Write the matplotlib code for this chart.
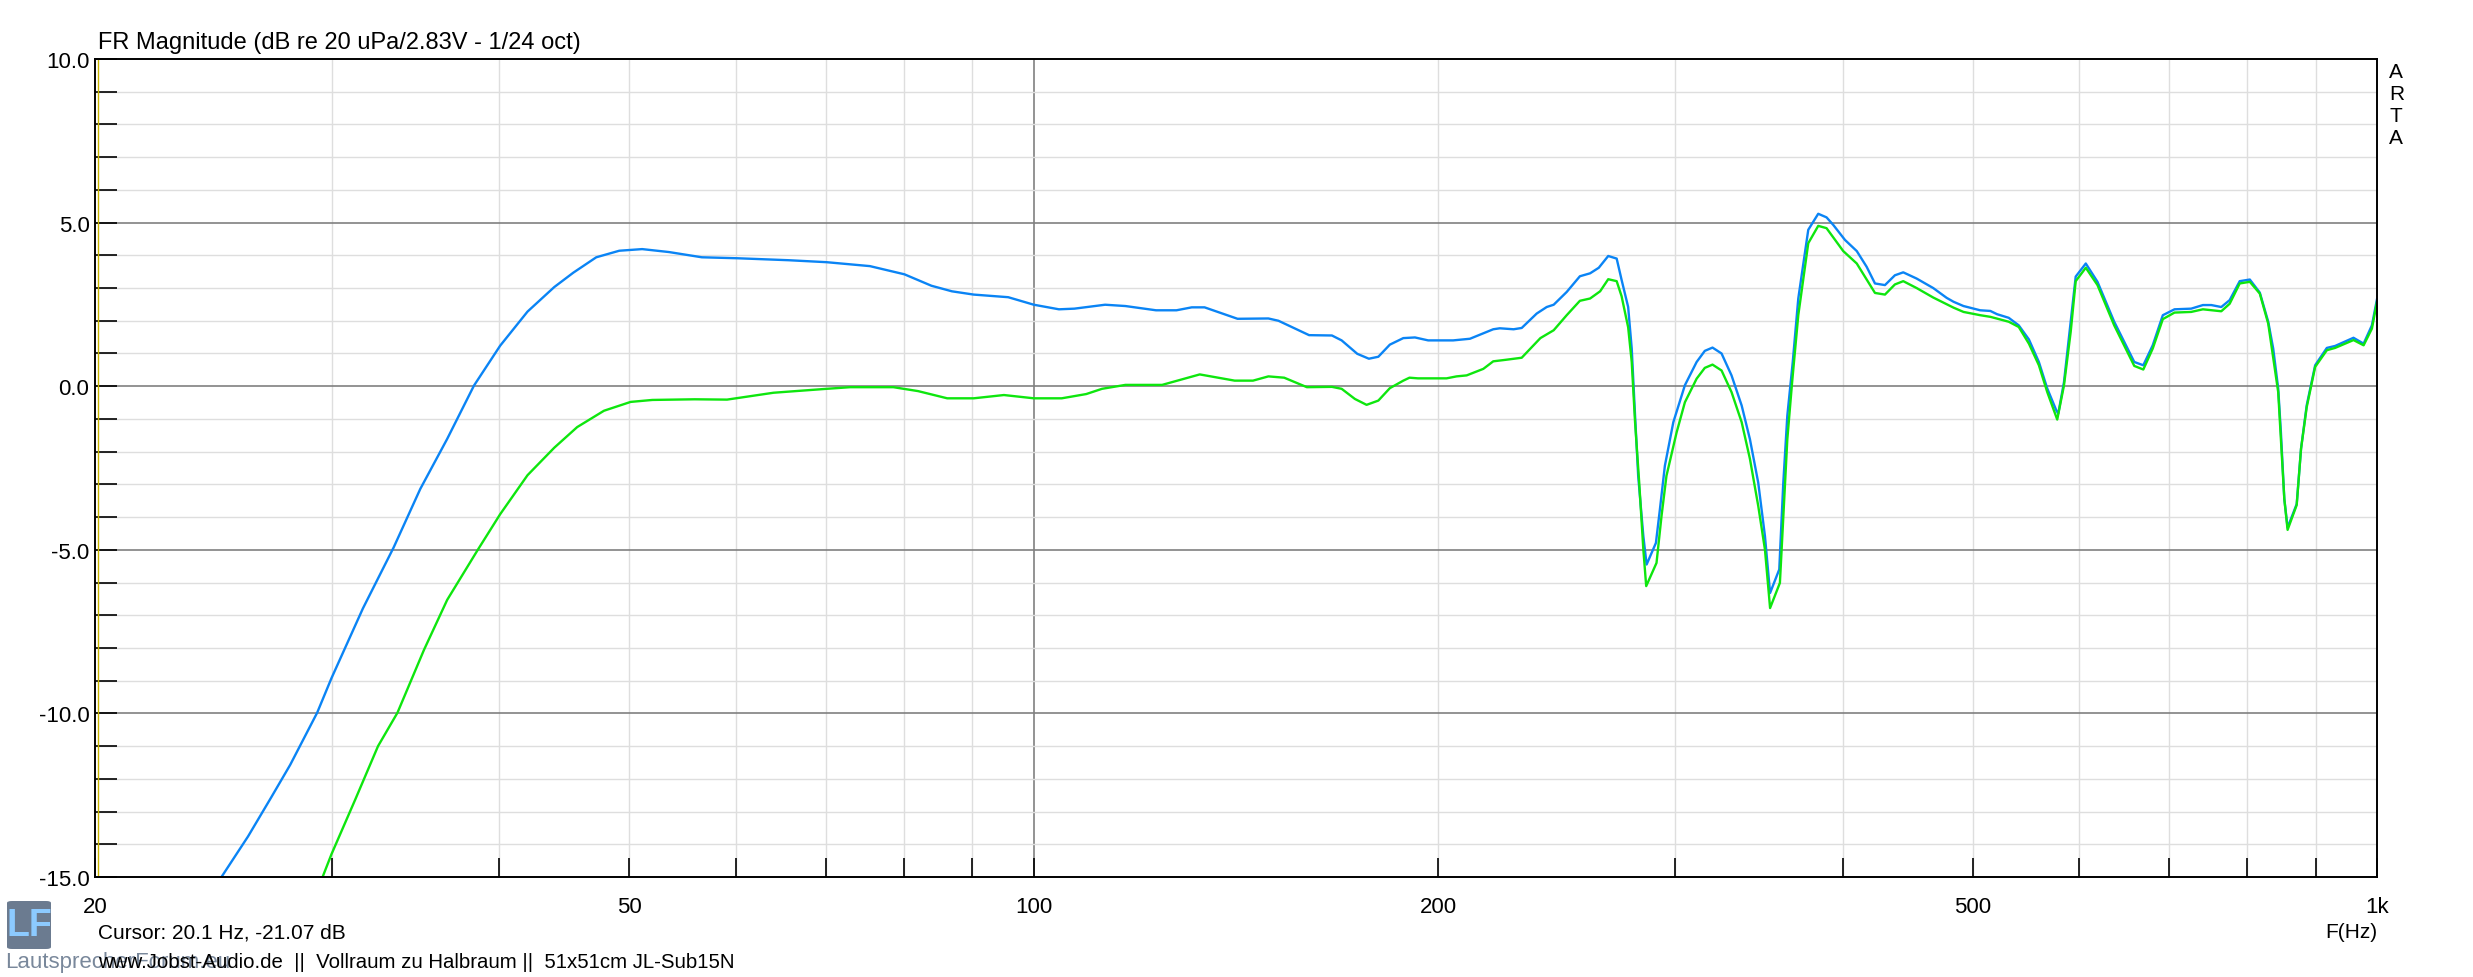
import matplotlib
matplotlib.use("Agg")
import matplotlib.pyplot as plt
from matplotlib.patches import FancyBboxPatch

plt.rcParams['font.family'] = ['Liberation Sans', 'DejaVu Sans']

# blue curve (Vollraum), frequency in Hz / level in dB
blue_f = [24.3, 26.0, 27.05, 27.95, 29.27, 30.0, 31.66, 33.37, 34.93, 36.58,
          38.3, 40.06, 41.98, 43.95, 45.41, 47.23, 49.13, 51.1, 53.5, 56.6,
          60.2, 65.7, 70.1, 75.5, 80.1, 83.9, 86.9, 90.2, 95.7, 100.0,
          104.4, 107.2, 113.0, 117.0, 123.3, 127.7, 131.1, 134.0, 141.8, 149.5,
          152.1, 160.3, 166.7, 169.5, 174.1, 177.6, 180.5, 184.1, 188.4, 192.2,
          196.6, 205.2, 211.2, 219.8, 222.3, 227.6, 230.8, 236.8, 240.9, 243.8,
          249.3, 255.0, 259.5, 263.4, 267.7, 271.6, 273.9, 277.0, 278.7, 280.3,
          281.8, 284.3, 285.9, 290.5, 292.5, 295.0, 299.3, 305.3, 311.5, 315.9,
          320.1, 325.1, 330.7, 336.5, 341.3, 346.2, 350.2, 353.3, 358.9, 361.4,
          363.9, 367.3, 370.8, 377.2, 383.7, 389.2, 393.7, 401.7, 409.9, 416.9,
          422.9, 430.2, 437.6, 443.9, 454.2, 467.3, 478.2, 483.9, 492.2, 506.5,
          515.4, 521.4, 531.9, 541.1, 550.6, 560.1, 568.2, 577.1, 579.0, 584.7,
          591.5, 596.6, 607.0, 619.3, 637.3, 659.6, 669.9, 680.8, 692.7, 706.7,
          727.2, 742.0, 752.7, 765.7, 776.8, 790.3, 804.1, 818.0, 829.9, 837.0,
          844.2, 848.1, 853.1, 857.9, 871.4, 877.9, 886.5, 899.4, 917.6, 930.7,
          960.5, 977.3, 991.3, 1000.0]
blue_db = [-15.6, -13.76, -12.57, -11.57, -9.98, -8.92, -6.79, -4.93, -3.14, -1.61,
           0.02, 1.24, 2.28, 3.03, 3.47, 3.94, 4.14, 4.19, 4.10, 3.94,
           3.91, 3.85, 3.79, 3.67, 3.42, 3.07, 2.90, 2.80, 2.72, 2.49,
           2.35, 2.37, 2.49, 2.45, 2.32, 2.32, 2.41, 2.41, 2.06, 2.07,
           2.00, 1.56, 1.55, 1.40, 0.99, 0.84, 0.90, 1.27, 1.47, 1.49,
           1.40, 1.40, 1.45, 1.74, 1.77, 1.74, 1.78, 2.22, 2.42, 2.49,
           2.88, 3.36, 3.45, 3.62, 3.98, 3.90, 3.25, 2.42, 1.15, -0.90,
           -2.74, -4.58, -5.45, -4.79, -3.76, -2.43, -1.10, 0.03, 0.74, 1.08,
           1.18, 1.00, 0.33, -0.59, -1.62, -2.95, -4.58, -6.32, -5.60, -2.95,
           -0.90, 0.74, 2.68, 4.78, 5.27, 5.16, 4.93, 4.47, 4.13, 3.65,
           3.14, 3.09, 3.39, 3.48, 3.29, 3.00, 2.70, 2.58, 2.45, 2.32,
           2.30, 2.20, 2.09, 1.86, 1.43, 0.74, -0.07, -0.74, -0.84, 0.12,
           1.97, 3.35, 3.75, 3.19, 1.97, 0.74, 0.64, 1.25, 2.17, 2.35,
           2.37, 2.48, 2.48, 2.42, 2.63, 3.21, 3.26, 2.86, 1.97, 1.15,
           -0.07, -1.40, -3.45, -4.32, -3.60, -1.91, -0.58, 0.64, 1.17, 1.23,
           1.48, 1.30, 1.86, 2.66]

# green curve (Halbraum)
green_f = [29.0, 30.0, 31.24, 32.49, 33.59, 35.16, 36.58, 38.55, 40.06, 41.98,
           43.95, 45.71, 47.86, 50.1, 52.0, 55.9, 59.1, 64.0, 70.1, 73.0,
           78.6, 82.0, 86.2, 90.2, 95.0, 100.0, 104.9, 109.4, 112.4, 117.0,
           124.6, 132.9, 141.1, 145.6, 149.5, 153.6, 159.7, 166.7, 169.5, 173.4,
           176.9, 180.5, 184.1, 188.4, 190.4, 193.2, 202.9, 206.4, 210.0, 216.1,
           219.8, 224.9, 230.8, 238.3, 243.8, 249.3, 255.0, 259.5, 264.0, 267.7,
           271.6, 273.9, 277.0, 278.7, 280.3, 282.3, 284.3, 285.7, 290.8, 293.3,
           295.8, 301.0, 305.3, 311.5, 315.9, 320.1, 325.1, 330.7, 336.5, 341.3,
           346.2, 350.2, 353.3, 359.3, 361.4, 363.9, 366.9, 370.8, 377.2, 383.7,
           389.2, 400.5, 409.9, 422.9, 430.2, 437.6, 443.9, 454.2, 467.3, 483.9,
           492.2, 506.5, 515.4, 531.9, 541.1, 550.6, 560.1, 568.2, 578.0, 584.7,
           591.5, 596.6, 607.0, 619.3, 637.3, 659.6, 669.9, 680.8, 692.7, 706.7,
           727.2, 742.0, 765.7, 776.8, 790.3, 804.1, 818.0, 829.9, 844.2, 848.1,
           853.1, 857.9, 871.4, 877.9, 886.5, 899.4, 917.6, 930.7, 960.5, 977.3,
           991.3, 1000.0]
green_db = [-15.85, -14.30, -12.64, -11.0, -9.98, -8.05, -6.53, -5.0, -3.91, -2.72,
            -1.88, -1.25, -0.75, -0.48, -0.42, -0.40, -0.41, -0.20, -0.08, -0.03,
            -0.03, -0.15, -0.37, -0.37, -0.27, -0.37, -0.37, -0.24, -0.08, 0.04,
            0.04, 0.36, 0.17, 0.17, 0.30, 0.26, -0.03, -0.02, -0.08, -0.39,
            -0.57, -0.44, -0.06, 0.17, 0.26, 0.24, 0.24, 0.30, 0.33, 0.53,
            0.76, 0.81, 0.87, 1.47, 1.71, 2.17, 2.61, 2.68, 2.90, 3.27,
            3.21, 2.75, 1.80, 0.74, -1.10, -2.95, -4.99, -6.11, -5.40, -3.97,
            -2.74, -1.41, -0.49, 0.23, 0.56, 0.66, 0.48, -0.18, -1.10, -2.22,
            -3.66, -4.99, -6.78, -6.01, -3.97, -1.62, 0.12, 2.17, 4.37, 4.90,
            4.83, 4.13, 3.75, 2.85, 2.80, 3.11, 3.21, 3.00, 2.71, 2.40,
            2.27, 2.17, 2.12, 1.97, 1.81, 1.30, 0.64, -0.18, -1.02, 0.02,
            1.66, 3.21, 3.62, 3.09, 1.86, 0.62, 0.51, 1.15, 2.05, 2.25,
            2.27, 2.35, 2.29, 2.52, 3.14, 3.19, 2.83, 1.91, -0.18, -1.61,
            -3.45, -4.39, -3.63, -1.91, -0.64, 0.59, 1.10, 1.17, 1.41, 1.25,
            1.76, 2.58]

x_ticks = [20, 50, 100, 200, 500, 1000]
x_labels = ['20', '50', '100', '200', '500', '1k']
y_ticks = [-15, -10, -5, 0, 5, 10]
y_labels = ['-15.0', '-10.0', '-5.0', '0.0', '5.0', '10.0']
cursor_f = 20.1

W, H = 2473, 978
fig = plt.figure(figsize=(W / 100, H / 100), dpi=100)
ax = fig.add_axes([95 / W, (H - 878) / H, 2282 / W, 818 / H])

light = '#dedede'
dark = '#808080'
minor_f = [30, 40, 50, 60, 70, 80, 90, 200, 300, 400, 500, 600, 700, 800, 900]
for f in minor_f:
    ax.axvline(f, color=light, lw=1.0, zorder=1)
ax.axvline(100, color=dark, lw=1.2, zorder=1)
for v in range(-14, 10):
    if v % 5 == 0:
        ax.axhline(v, color=dark, lw=1.2, zorder=1)
    else:
        ax.axhline(v, color=light, lw=1.0, zorder=1)

ax.axvline(cursor_f, color='#c8b400', lw=1.0, zorder=2)

ax.plot(blue_f, blue_db, color='#0a84f5', lw=1.7, zorder=3)
ax.plot(green_f, green_db, color='#0ee60e', lw=1.7, zorder=4)

ax.set_xscale('log')
ax.set_xlim(20, 1000)
ax.set_ylim(-15, 10)

ax.set_xticks(x_ticks)
ax.set_xticklabels(x_labels)
ax.set_xticks(minor_f, minor=True)
ax.set_xticklabels([], minor=True)
ax.set_yticks(y_ticks)
ax.set_yticklabels(y_labels)
ax.set_yticks(range(-14, 10), minor=True)

ax.tick_params(axis='x', which='both', direction='in', length=13.5, width=1.2,
               pad=14, labelsize=16, colors='black')
ax.tick_params(axis='y', which='both', direction='in', length=16, width=1.2,
               pad=4, labelsize=16)
for s in ax.spines.values():
    s.set_linewidth(1.4)
    s.set_color('black')
    s.set_zorder(5)

def px(x, y):
    return x / W, 1 - y / H

fig.text(*px(98, 43), 'FR Magnitude (dB re 20 uPa/2.83V - 1/24 oct)',
         fontsize=17, ha='left', va='center')
for i, ch in enumerate('ARTA'):
    fig.text(*px(2389, 72 + 22.3 * i), ch, fontsize=15, ha='left', va='center')
fig.text(*px(2377, 933), 'F(Hz)', fontsize=15, ha='right', va='center')
fig.text(*px(98, 933), 'Cursor: 20.1 Hz, -21.07 dB', fontsize=15,
         ha='left', va='center')

# forum logo
logo = FancyBboxPatch(px(7, 950), 44 / W, 48 / H,
                      boxstyle='round,pad=0,rounding_size=0.002',
                      transform=fig.transFigure, facecolor='#6b7b90',
                      edgecolor='none', zorder=1)
fig.patches.append(logo)
fig.text(*px(29, 926), 'LF', fontsize=27, fontweight='bold', color='#8ccaff',
         ha='center', va='center', zorder=2)
fig.text(*px(5, 963), 'LautsprecherForum.eu', fontsize=16, color='#6b7b90',
         ha='left', va='center', alpha=0.9, zorder=2)
fig.text(*px(98, 963),
         'www.Jobst-Audio.de  ||  Vollraum zu Halbraum ||  51x51cm JL-Sub15N',
         fontsize=14.7, ha='left', va='center', zorder=3)

fig.savefig('out.png', dpi=100, facecolor='white')
